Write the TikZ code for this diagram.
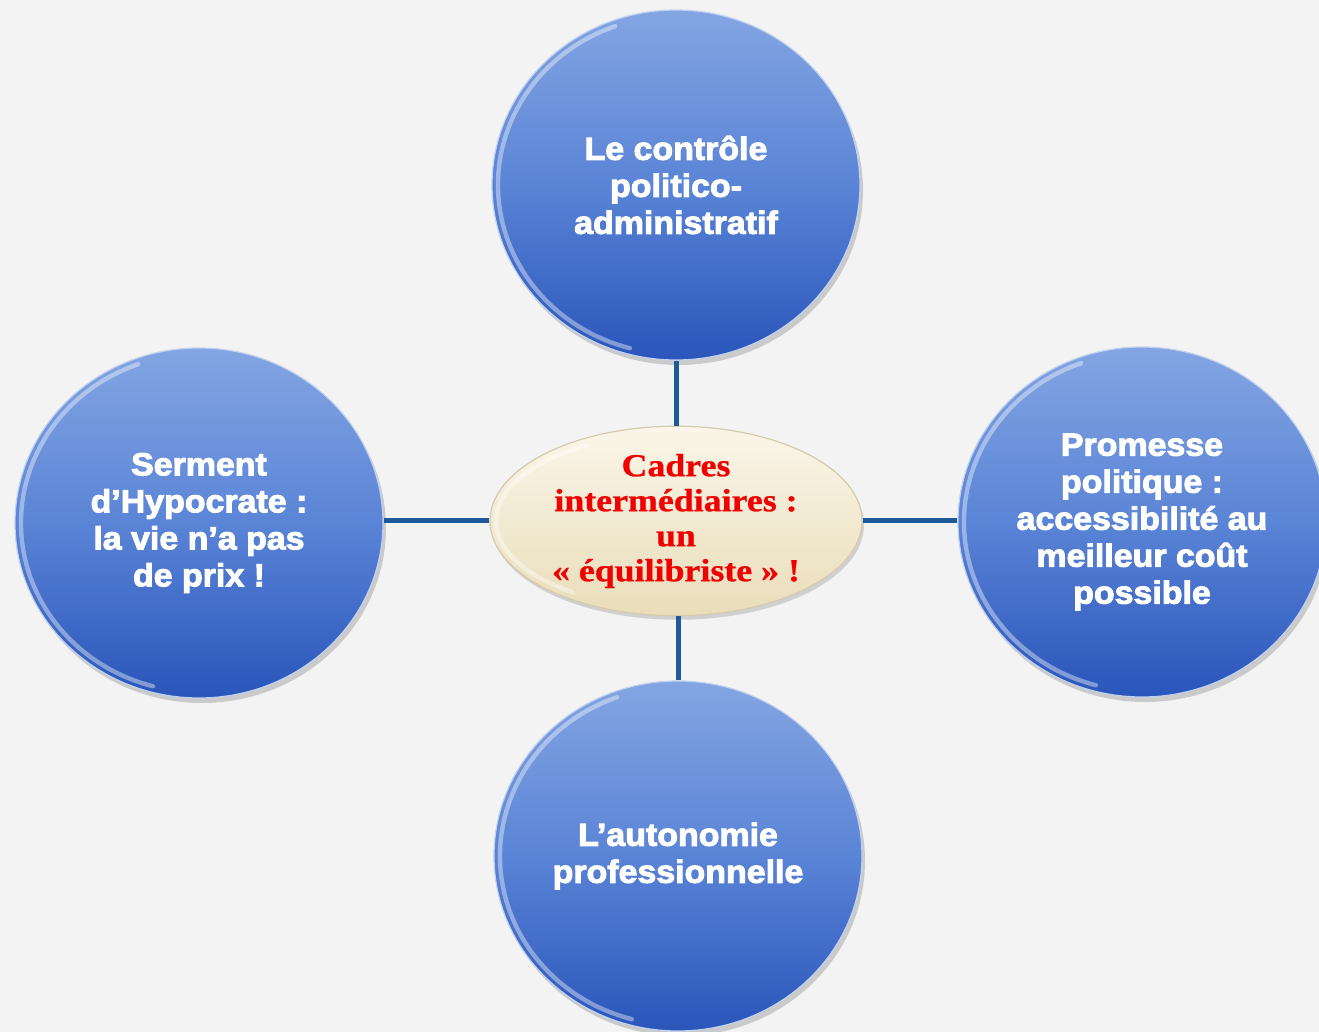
\documentclass[tikz,border=0pt]{standalone}
\usepackage{fontspec}
\setmainfont{Liberation Sans}[BoldFeatures={FakeBold=3,FakeStretch=1.06}]
\newfontfamily\redserif{Liberation Serif}[BoldFeatures={FakeBold=0.8,FakeStretch=1.12}]
\usetikzlibrary{shapes.geometric,shadows}
\definecolor{bg}{HTML}{F3F3F3}
\definecolor{bluetop}{HTML}{84A5E2}
\definecolor{bluemid}{HTML}{5A84D6}
\definecolor{bluebot}{HTML}{2A55BA}
\definecolor{linkblue}{HTML}{1C5A9A}
\definecolor{redtxt}{HTML}{F00000}
\definecolor{creamtop}{HTML}{FBF6EA}
\definecolor{creambot}{HTML}{E9DDB9}
\begin{document}
\begin{tikzpicture}[x=0.5pt,y=0.5pt,
  bubble/.style={ellipse, inner sep=0pt, minimum width=184pt, minimum height=175pt,
    top color=bluetop, bottom color=bluebot, middle color=bluemid,
    draw=bluetop!50!white, line width=0.6pt, text=white,
    font=\bfseries\fontsize{16}{18.5}\selectfont, align=center,
    drop shadow={opacity=0.35, shadow xshift=1.5pt, shadow yshift=-2.5pt}},
  hub/.style={ellipse, inner sep=0pt, minimum width=186pt, minimum height=93pt,
    top color=creamtop, bottom color=creambot, draw=creambot!80!gray, line width=0.6pt,
    text=redtxt, font=\redserif\bfseries\fontsize{16}{17.5}\selectfont, align=center,
    drop shadow={opacity=0.3, shadow xshift=1pt, shadow yshift=-2pt}},
  link/.style={draw=linkblue, line width=2.5pt},
  gloss/.style={draw=white, opacity=0.4, line width=2.2pt, line cap=round}
]
\fill[bg] (0,0) rectangle (1319,-1032);
\useasboundingbox (0,0) rectangle (1319,-1032);

\node[hub] (hub) at (676,-521) {Cadres\\intermédiaires :\\un\\« équilibriste » !};

\node[bubble] (top) at (676,-185) {Le contrôle\\politico-\\administratif};
\node[bubble] (left) at (199,-523) {Serment\\d’Hypocrate :\\la vie n’a pas\\de prix !};
\node[bubble] (right) at (1142,-522) {Promesse\\politique :\\accessibilité au\\meilleur coût\\possible};
\node[bubble] (bottom) at (678,-856) {L’autonomie\\professionnelle};

\foreach \n in {top,left,right,bottom}{
  \draw[gloss] (\n.center) ++(110:178 and 169) arc[start angle=110, end angle=255, x radius=178, y radius=169];
}
\draw[gloss] (hub.center) ++(120:180 and 87) arc[start angle=120, end angle=235, x radius=180, y radius=87];

\draw[link] (top) -- (hub);
\draw[link] (bottom.north) -- (bottom.north |- hub.south);
\draw[link] (left.east |- hub.west) -- (hub.west);
\draw[link] (hub.east) -- (hub.east -| right.west);
\end{tikzpicture}
\end{document}
